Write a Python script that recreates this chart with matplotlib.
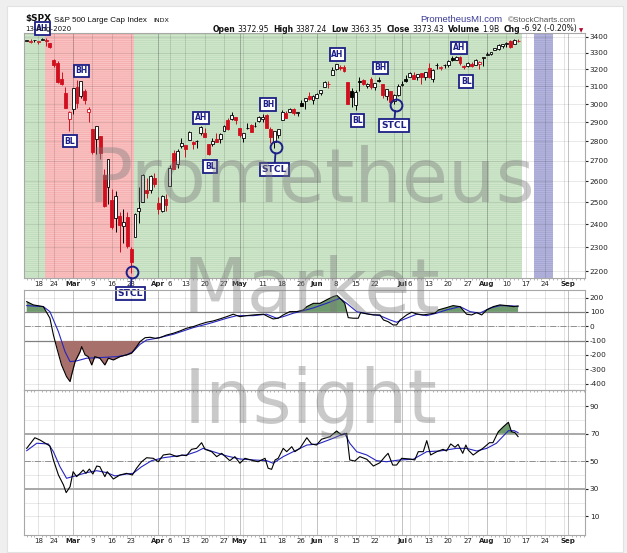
import numpy as np
import pandas as pd
import matplotlib
matplotlib.use('Agg')
import matplotlib.pyplot as plt
from matplotlib.patches import Rectangle
from matplotlib.ticker import NullLocator

plt.rcParams['font.family'] = ['DejaVu Sans']
plt.rcParams['hatch.linewidth'] = 0.5

# trading days shown on the axis (data ends 13-Aug, axis runs into September)
all_days = pd.bdate_range('2020-02-12', '2020-09-08')
holidays = pd.to_datetime(['2020-02-17', '2020-04-10', '2020-05-25', '2020-07-03', '2020-09-07'])
days = all_days.difference(holidays)

# daily OHLC of $SPX, 12-Feb .. 13-Aug 2020
opens = [3370.5, 3365.9, 3378.1, 3369.0, 3380.4, 3380.5, 3360.5, 3257.6, 3238.9, 3139.9, 3062.5, 2916.9,
         2974.3, 3096.5, 3045.8, 3075.7, 2954.2, 2863.9, 2813.5, 2825.6, 2630.9, 2570.0, 2508.6, 2425.7,
         2436.5, 2393.5, 2431.9, 2290.7, 2344.4, 2457.8, 2501.3, 2555.9, 2559.0, 2614.7,
         2498.1, 2458.5, 2514.9, 2578.3, 2738.7, 2685.0, 2777.0, 2782.5, 2805.1, 2795.6, 2799.3, 2842.4,
         2845.6, 2784.8, 2787.9, 2810.4, 2812.6, 2854.7, 2910.0, 2918.5, 2930.9,
         2869.1, 2815.0, 2868.9, 2883.1, 2878.3, 2908.8, 2915.5, 2939.5, 2865.9, 2794.5, 2830.0, 2913.9,
         2948.6, 2953.6, 2970.0, 2948.1, 3004.1, 3015.7, 3046.6, 3025.2,
         3031.2, 3064.8, 3098.9, 3111.6, 3163.8, 3199.9, 3213.3, 3213.4, 3123.5, 3071.0, 2993.8, 3131.0,
         3136.1, 3101.6, 3140.3, 3094.4, 3138.7, 3114.4, 3046.6, 3073.2, 3018.6, 3050.2,
         3105.9, 3143.6, 3155.3, 3166.4, 3153.1, 3176.2, 3152.5, 3205.1, 3141.1, 3226.0, 3208.4, 3224.2,
         3224.3, 3268.5, 3254.9, 3271.6, 3218.6, 3219.8, 3234.3, 3227.2, 3231.8, 3270.5,
         3288.3, 3289.9, 3317.4, 3323.2, 3340.1, 3356.0, 3370.3, 3355.5, 3373.0]
highs = [3381.5, 3385.1, 3380.7, 3375.0, 3393.5, 3389.2, 3360.8, 3259.8, 3247.0, 3182.5, 3097.1, 2959.7,
         3091.0, 3136.7, 3131.0, 3083.0, 2985.9, 2863.9, 2882.6, 2825.6, 2661.0, 2711.3, 2563.0, 2553.9,
         2453.6, 2467.0, 2453.0, 2300.7, 2449.7, 2571.4, 2637.0, 2615.9, 2631.8, 2641.4,
         2522.8, 2533.2, 2538.2, 2676.9, 2756.9, 2760.8, 2818.6, 2782.5, 2851.9, 2801.9, 2806.5, 2879.2,
         2869.0, 2785.5, 2815.1, 2844.9, 2842.7, 2887.7, 2921.2, 2954.9, 2930.9,
         2869.1, 2844.2, 2898.2, 2891.1, 2901.9, 2932.2, 2944.3, 2945.8, 2874.1, 2852.8, 2865.0, 2968.1,
         2964.2, 2980.3, 2978.5, 2956.8, 3021.7, 3036.3, 3068.7, 3049.2,
         3062.2, 3081.1, 3130.9, 3128.9, 3211.7, 3233.1, 3222.7, 3223.3, 3123.5, 3088.4, 3079.8, 3153.5,
         3141.2, 3120.0, 3155.5, 3120.9, 3154.9, 3115.0, 3086.3, 3073.7, 3053.9, 3111.5,
         3128.4, 3165.8, 3182.6, 3184.2, 3171.8, 3179.8, 3186.8, 3235.3, 3201.0, 3238.3, 3220.4, 3233.5,
         3258.6, 3277.3, 3279.3, 3280.0, 3227.3, 3241.4, 3243.7, 3264.7, 3250.9, 3272.2,
         3302.7, 3306.8, 3330.8, 3351.0, 3352.5, 3363.3, 3381.0, 3387.9, 3387.2]
lows = [3369.7, 3360.5, 3366.2, 3355.6, 3378.8, 3341.0, 3328.5, 3214.7, 3118.8, 3109.0, 2977.4, 2855.8,
        2945.2, 2976.6, 3034.4, 2999.8, 2901.5, 2734.4, 2734.0, 2707.2, 2478.9, 2492.4, 2380.9, 2367.0,
        2280.5, 2319.8, 2295.6, 2191.9, 2344.4, 2407.5, 2500.7, 2520.0, 2545.3, 2571.2,
        2447.5, 2455.8, 2460.0, 2574.6, 2657.7, 2663.3, 2762.4, 2721.2, 2805.1, 2761.5, 2764.3, 2830.9,
        2820.4, 2727.1, 2776.0, 2794.3, 2791.8, 2852.9, 2860.7, 2912.2, 2892.5,
        2821.6, 2797.9, 2863.6, 2847.7, 2876.5, 2902.9, 2903.4, 2869.6, 2793.2, 2766.6, 2816.8, 2913.9,
        2922.4, 2953.6, 2938.6, 2933.6, 2988.2, 2969.8, 3023.4, 2998.6,
        3031.2, 3051.6, 3098.9, 3090.4, 3163.8, 3196.0, 3193.1, 3181.5, 2999.5, 2984.5, 2965.7, 3076.1,
        3108.0, 3093.5, 3083.1, 3079.4, 3127.1, 3032.1, 3024.0, 3004.6, 2999.7, 3047.8,
        3101.2, 3124.5, 3155.3, 3142.9, 3136.5, 3115.7, 3136.2, 3149.4, 3127.7, 3200.8, 3198.6, 3205.7,
        3215.2, 3247.8, 3253.1, 3222.7, 3200.1, 3214.3, 3216.2, 3227.2, 3204.1, 3220.3,
        3284.5, 3286.4, 3317.4, 3318.1, 3328.7, 3335.4, 3326.4, 3355.5, 3363.4]
closes = [3379.5, 3373.9, 3380.2, 3370.3, 3386.2, 3373.2, 3337.8, 3225.9, 3128.2, 3116.4, 2978.8, 2954.2,
          3090.2, 3003.4, 3130.1, 3023.9, 2972.4, 2746.6, 2882.2, 2741.4, 2480.6, 2711.0, 2386.1, 2529.2,
          2398.1, 2409.4, 2304.9, 2237.4, 2447.3, 2475.6, 2630.1, 2541.5, 2626.7, 2584.6,
          2470.5, 2526.9, 2488.7, 2663.7, 2659.4, 2750.0, 2789.8, 2761.6, 2846.1, 2783.4, 2799.6, 2874.6,
          2823.2, 2736.6, 2799.3, 2797.8, 2836.7, 2878.5, 2863.4, 2939.5, 2912.4,
          2830.7, 2842.7, 2868.4, 2848.4, 2881.2, 2929.8, 2930.3, 2870.1, 2820.0, 2852.5, 2863.7, 2953.9,
          2922.9, 2971.6, 2948.5, 2955.5, 2991.8, 3036.1, 3029.7, 3044.3,
          3055.7, 3080.8, 3122.9, 3112.4, 3193.9, 3232.4, 3207.2, 3190.1, 3002.1, 3041.3, 3066.6, 3124.7,
          3113.5, 3115.3, 3097.7, 3117.9, 3131.3, 3050.3, 3083.8, 3009.1, 3053.2, 3100.3,
          3115.9, 3130.0, 3179.7, 3145.3, 3169.9, 3152.1, 3185.0, 3155.2, 3197.5, 3226.6, 3215.6, 3224.7,
          3251.8, 3257.3, 3276.0, 3235.7, 3215.6, 3239.4, 3218.4, 3258.4, 3246.2, 3271.1,
          3294.6, 3306.5, 3327.8, 3349.2, 3351.3, 3360.5, 3333.7, 3380.4, 3373.4]

# momentum panel, x in trading-day units
mom_x = [0, 1.7, 4.3, 6.0, 6.9, 7.8, 9.0, 10.3, 11.2, 11.6, 12.5, 13.8, 14.2, 15.1, 15.9, 16.8, 17.6,
         18.9, 20.2, 21.1, 22.4, 24.1, 25.8, 27.1, 28.4, 29.3, 30.6, 31.9, 33.2, 34.4, 36.2, 37.9, 39.6,
         41.3, 43.0, 44.8, 46.5, 48.2, 49.9, 51.7, 53.4, 55.1, 56.8, 58.6, 61.2, 62.4, 63.7, 65.0, 66.3,
         68.0, 69.8, 71.5, 72.4, 74.1, 75.8, 77.5, 79.2, 80.2, 81.4, 82.2, 83.1, 84.4, 85.7, 86.3, 87.9,
         89.6, 91.3, 92.2, 93.4, 94.7, 95.6, 96.5, 98.2, 99.5, 100.8, 102.5, 104.2, 105.5, 106.4, 108.5,
         110.2, 112.0, 113.7, 115.0, 116.3, 117.6, 118.9, 120.6, 122.3, 124.1, 125.8, 127.0]
mom_val = [172, 149, 137, 56, -61, -154, -270, -352, -386, -340, -247, -177, -142, -200, -212, -270, -212,
           -223, -270, -223, -235, -212, -200, -188, -142, -107, -80, -77, -84, -80, -61, -49, -33,
           -14, -3, 14, 28, 37, 51, 67, 84, 67, 74, 79, 84, 67, 51, 56, 79,
           102, 102, 114, 137, 160, 160, 184, 207, 215, 184, 160, 60, 56, 56, 95, 86,
           79, 79, 44, 32, 9, 9, 44, 79, 98, 86, 79, 86, 91, 114, 130,
           144, 137, 84, 79, 95, 79, 114, 137, 149, 144, 137, 142]
mom_sig_x = [0, 4.3, 6.0, 8.2, 9.9, 11.2, 12.9, 15.5, 18.9, 23.3, 25.8, 27.5, 29.3, 31.0, 33.6, 37.9,
             43.0, 47.4, 51.7, 54.3, 58.6, 62.0, 64.6, 66.3, 68.9, 70.6, 74.1, 77.5, 80.9, 82.7, 85.3,
             88.7, 91.3, 93.9, 95.6, 98.2, 100.8, 103.4, 105.9, 108.5, 112.0, 114.6, 117.1, 119.7, 122.3,
             125.7, 127.0]
mom_sig = [144, 137, 102, -38, -177, -247, -242, -223, -219, -212, -200, -177, -126, -96, -84, -56,
           -10, 21, 56, 74, 74, 84, 56, 67, 91, 102, 128, 160, 195, 160, 102,
           84, 74, 44, 28, 56, 84, 74, 91, 114, 137, 102, 91, 126, 144,
           142, 137]

# RSI panel
rsi_x = [0, 2.1, 3.4, 6.0, 6.9, 8.2, 9.5, 10.2, 11.2, 12.0, 12.9, 13.8, 14.6, 15.3, 16.2, 17.1, 18.1,
         18.9, 20.2, 20.8, 22.4, 24.1, 25.8, 27.3, 28.4, 29.7, 31.0, 32.7, 34.0, 35.3, 37.0, 38.8, 40.1,
         41.3, 42.6, 43.9, 45.2, 46.1, 47.8, 49.1, 50.4, 52.5, 53.8, 55.1, 56.4, 58.6, 59.8, 61.6, 62.4,
         63.3, 64.2, 65.0, 66.3, 67.2, 68.5, 69.3, 70.6, 72.4, 73.6, 74.9, 76.2, 78.4, 80.1, 81.4, 82.7,
         83.5, 84.8, 86.1, 87.9, 89.6, 91.3, 92.6, 93.4, 94.6, 95.6, 96.9, 99.0, 100.3, 101.2, 102.5,
         103.4, 104.4, 106.0, 107.6, 108.5, 109.6, 110.7, 111.5, 112.7, 113.5, 114.1, 115.4, 116.6,
         117.9, 119.6, 120.5, 121.9, 123.2, 124.5, 125.3, 126.2, 127.0]
rsi_val = [59.3, 67.0, 65.4, 61.0, 50.9, 40.0, 32.8, 27.2, 31.5, 42.4, 38.8, 41.2, 43.6, 41.2, 44.3, 40.7, 46.5,
           46.0, 38.8, 42.4, 37.1, 40.0, 41.2, 40.0, 44.9, 49.6, 52.5, 52.1, 49.6, 54.5, 55.2, 53.3, 54.5,
           54.0, 58.6, 59.3, 63.4, 58.6, 56.9, 53.3, 55.7, 50.4, 53.3, 48.5, 52.1, 50.4, 49.6, 52.1, 44.9,
           44.1, 50.9, 52.1, 59.3, 56.9, 60.5, 56.9, 59.3, 67.0, 62.5, 61.7, 65.9, 67.8, 71.9, 69.0, 70.2,
           50.9, 50.1, 53.3, 51.4, 46.5, 48.9, 53.3, 55.7, 47.2, 47.2, 52.1, 51.6, 50.9, 56.9, 56.9,
           64.9, 54.5, 56.9, 58.6, 57.4, 62.5, 60.1, 62.2, 55.7, 61.7, 58.1, 54.5, 56.9,
           59.3, 63.4, 63.4, 71.4, 75.0, 78.2, 71.4, 70.7, 67.8]
rsi_sig_x = [0, 2.6, 5.6, 6.9, 8.6, 10.3, 12.5, 15.5, 18.1, 20.7, 22.8, 25.8, 27.5, 29.7, 32.3, 35.3,
             38.8, 41.3, 43.9, 45.6, 48.2, 51.7, 55.1, 58.6, 62.0, 63.7, 66.3, 68.9, 72.4, 75.3, 79.2,
             82.2, 83.5, 85.3, 87.9, 90.4, 93.0, 96.4, 99.9, 103.4, 106.8, 111.1, 113.7, 116.3, 118.9,
             121.4, 123.2, 124.5, 126.0, 127.0]
rsi_sig = [57.6, 63.0, 62.5, 56.9, 46.0, 37.6, 39.3, 41.7, 43.1, 41.7, 39.3, 40.7, 41.2, 46.0, 50.4, 52.5,
           53.8, 54.5, 56.9, 59.3, 56.9, 53.8, 51.6, 50.9, 50.4, 48.5, 53.3, 56.9, 61.7, 62.5, 66.6,
           70.2, 63.0, 56.9, 54.5, 50.4, 49.6, 50.9, 51.4, 56.9, 57.4, 59.3, 59.3, 57.4, 59.3,
           63.0, 68.3, 72.1, 72.1, 70.7]

# x axis labels
tick_dates = ['2020-02-18', '2020-02-24', '2020-03-02', '2020-03-09', '2020-03-16', '2020-03-23',
              '2020-04-01', '2020-04-06', '2020-04-13', '2020-04-20', '2020-04-27', '2020-05-01',
              '2020-05-11', '2020-05-18', '2020-05-26', '2020-06-01', '2020-06-08', '2020-06-15',
              '2020-06-22', '2020-07-01', '2020-07-06', '2020-07-13', '2020-07-20', '2020-07-27',
              '2020-08-03', '2020-08-10', '2020-08-17', '2020-08-24', '2020-09-01']
tick_labels = ['18', '24', 'Mar', '9', '16', '23', 'Apr', '6', '13', '20', '27', 'May', '11', '18', '26',
               'Jun', '8', '15', '22', 'Jul', '6', '13', '20', '27', 'Aug', '10', '17', '24', 'Sep']
extra_grid_dates = ['2020-05-04', '2020-06-29', '2020-08-31']
months = ['Mar', 'Apr', 'May', 'Jun', 'Jul', 'Aug', 'Sep']

price_ticks = [2200, 2300, 2400, 2500, 2600, 2700, 2800, 2900, 3000, 3100, 3200, 3300, 3400]
mom_ticks = [200, 100, 0, -100, -200, -300, -400]
rsi_ticks = [10, 30, 50, 70, 90]

# background bands of the price panel (trading-day units)
bands = [(-0.7, 4.7, 'g'), (4.7, 27.7, 'r'), (27.7, 128.0, 'g'), (131.1, 136.1, 'b')]

# chart annotations: text, day, price
marks = [('AH', 4.1, 3451), ('BH', 14.2, 3190), ('BL', 11.2, 2801), ('AH', 45.0, 2924),
         ('BL', 47.4, 2672), ('BH', 62.4, 2998), ('AH', 80.3, 3288), ('BL', 85.5, 2910),
         ('BH', 91.4, 3208), ('AH', 111.7, 3329), ('BL', 113.6, 3129)]
stcl = [(27.2, 2195, 26.8, 2110), (64.4, 2768, 64.0, 2655), (95.4, 2995, 94.9, 2885)]

navy = '#1c1f86'
red = '#d0101e'
W, H = 627, 553


def rect(l, t, r, b):
    return [l / W, 1 - b / H, (r - l) / W, (b - t) / H]


fig = plt.figure(figsize=(6.27, 5.53), dpi=100)
fig.patch.set_facecolor('#efefef')
fig.patches.append(Rectangle((7 / W, 1 - 552 / H), 616 / W, 546 / H, transform=fig.transFigure,
                             fc='white', ec='#e2e2e2', lw=0.8, zorder=-5))

ax1 = fig.add_axes(rect(24, 33, 585, 278))
ax2 = fig.add_axes(rect(24, 290, 585, 390))
ax3 = fig.add_axes(rect(24, 390, 585, 535))

tick_pos = days.get_indexer(pd.to_datetime(tick_dates))
extra_pos = days.get_indexer(pd.to_datetime(extra_grid_dates))
n_days = len(days)
xlo, xhi = -0.7, n_days - 0.7

for ax in (ax1, ax2, ax3):
    ax.set_xlim(xlo, xhi)
    ax.patch.set_alpha(0)
    for p, lab in zip(tick_pos, tick_labels):
        ax.axvline(p, color='k', alpha=0.28 if lab in months else 0.13, lw=0.6, zorder=1)
    for p in extra_pos:
        ax.axvline(p, color='k', alpha=0.13, lw=0.6, zorder=1)
    for s in ax.spines.values():
        s.set_color('#a8a8a8')
        s.set_linewidth(0.8)
    ax.yaxis.tick_right()
    ax.tick_params(axis='y', labelsize=5.3, length=2, pad=1.5, colors='#222222')
    ax.set_xticks(tick_pos)
    ax.set_xticks(np.arange(n_days), minor=True)
    ax.tick_params(axis='x', which='major', length=0, pad=2.5, labelsize=5.0, colors='#222222')
    ax.tick_params(axis='x', which='minor', length=1.5, width=0.5, color='#999999')
    ax.tick_params(axis='y', which='minor', length=0)

# ---- price panel ----
band_style = {'g': ('#cfe6cb', '#bcdab8'), 'r': ('#fac2c2', '#f4aaaa'), 'b': ('#b4b4dc', '#a2a2d2')}
for x0, x1, k in bands:
    fc, hc = band_style[k]
    ax1.axvspan(x0, x1, facecolor=fc, edgecolor=hc, hatch='--------', lw=0, zorder=0)

ax1.set_yscale('log')
ax1.set_ylim(2172, 3423)
ax1.set_yticks(price_ticks)
ax1.set_yticklabels([str(v) for v in price_ticks])
ax1.yaxis.set_minor_locator(NullLocator())
for v in price_ticks:
    ax1.axhline(v, color='k', alpha=0.1, lw=0.6, zorder=1)

for i in range(len(closes)):
    o, h, lo, c = opens[i], highs[i], lows[i], closes[i]
    down_day = i > 0 and c < closes[i - 1]
    col = red if down_day else 'black'
    face = col if c < o else 'white'
    ax1.vlines(i, lo, h, color=col, lw=0.7, zorder=3)
    ax1.bar(i, max(abs(c - o), 0.8), bottom=min(o, c), width=0.75, facecolor=face,
            edgecolor=col, lw=0.6, zorder=4)

box = dict(boxstyle='square,pad=0.22', fc='white', ec=navy, lw=1.3)
for txt, x, y in marks:
    ax1.text(x, y, txt, ha='center', va='center', fontsize=5.5, fontweight='bold', color=navy,
             bbox=box, zorder=6, clip_on=False)
for cx, cy, tx, ty in stcl:
    ax1.plot(cx, cy, 'o', ms=8.5, mfc='none', mec=navy, mew=1.4, zorder=6, clip_on=False)
    ax1.annotate('STCL', xy=(cx, cy), xytext=(tx, ty), ha='center', va='center', fontsize=6.6,
                 fontweight='bold', color=navy, bbox=box, zorder=6, annotation_clip=False,
                 arrowprops=dict(arrowstyle='-', color=navy, lw=1.3, shrinkA=0, shrinkB=4.3))

# ---- momentum panel ----
mx = np.array(mom_x)
mv = np.array(mom_val)
ax2.set_ylim(-445, 253)
ax2.set_yticks(mom_ticks)
ax2.set_yticklabels([str(v) for v in mom_ticks])
ax2.set_xticklabels([])
for v in mom_ticks:
    ax2.axhline(v, color='k', alpha=0.1, lw=0.6, zorder=1)
ax2.axhline(100, color='#808080', lw=0.9, zorder=2)
ax2.axhline(-100, color='#808080', lw=0.9, zorder=2)
ax2.axhline(0, color='#909090', lw=0.7, ls='-.', zorder=2)
ax2.fill_between(mx, mv, 100, where=mv > 100, interpolate=True, color='#6f9a6d', lw=0, zorder=2)
ax2.fill_between(mx, mv, -100, where=mv < -100, interpolate=True, color='#a8706a', lw=0, zorder=2)
ax2.plot(mom_sig_x, mom_sig, color='#2626c0', lw=0.8, zorder=3)
ax2.plot(mx, mv, color='black', lw=0.8, zorder=4)

# ---- RSI panel ----
rx = np.array(rsi_x)
rv = np.array(rsi_val)
ax3.set_ylim(-3.5, 101.6)
ax3.set_yticks(rsi_ticks)
ax3.set_yticklabels([str(v) for v in rsi_ticks])
for v in range(10, 100, 10):
    ax3.axhline(v, color='k', alpha=0.1, lw=0.6, zorder=1)
ax3.axhline(70, color='#a8a8a8', lw=1.4, zorder=2)
ax3.axhline(30, color='#a8a8a8', lw=1.4, zorder=2)
ax3.axhline(50, color='#909090', lw=0.7, ls='-.', zorder=2)
ax3.fill_between(rx, rv, 70, where=rv > 70, interpolate=True, color='#6f9a6d', lw=0, zorder=2)
ax3.plot(rsi_sig_x, rsi_sig, color='#2626c0', lw=0.8, zorder=3)
ax3.plot(rx, rv, color='black', lw=0.8, zorder=4)

for ax in (ax1, ax3):
    ax.set_xticklabels(tick_labels)
    for t in ax.get_xticklabels():
        if t.get_text() in months:
            t.set_fontweight('bold')

# ---- header ----
fig.text(25 / W, 1 - 21.5 / H, '$SPX', fontsize=6.4, fontweight='bold', color='#111111')
fig.text(54 / W, 1 - 21.5 / H, 'S&P 500 Large Cap Index', fontsize=5.8, color='#111111',
         family=['Liberation Sans', 'DejaVu Sans'])
fig.text(153 / W, 1 - 21.5 / H, 'INDX', fontsize=4.6, color='#111111')
fig.text(25 / W, 1 - 31.5 / H, '13-Aug-2020', fontsize=5.1, color='#111111')
fig.text(420 / W, 1 - 21.5 / H, 'PrometheusMI.com', fontsize=6.8, color='#3c3c96',
         family=['Liberation Sans', 'DejaVu Sans'])
fig.text(508 / W, 1 - 21.5 / H, '\u00a9StockCharts.com', fontsize=5.9, color='#555555',
         family=['Liberation Sans', 'DejaVu Sans'])

parts = [('Open', 'bold', '#111111', 0), ('3372.95', 'normal', '#111111', 1.3),
         ('High', 'bold', '#111111', 3.3), ('3387.24', 'normal', '#111111', 1.3),
         ('Low', 'bold', '#111111', 3.3), ('3363.35', 'normal', '#111111', 1.3),
         ('Close', 'bold', '#111111', 3.3), ('3373.43', 'normal', '#111111', 1.3),
         ('Volume', 'bold', '#111111', 3.3), ('1.9B', 'normal', '#111111', 1.3),
         ('Chg', 'bold', '#111111', 3.3), ('-6.92 (-0.20%)', 'normal', '#111111', 1.3),
         ('\u25bc', 'normal', '#b0002a', 1.5)]
prev = fig.text(213 / W, 1 - 31.5 / H, parts[0][0], fontsize=5.5, fontweight=parts[0][1], color=parts[0][2])
for s, wgt, col, gap in parts[1:]:
    prev = ax1.annotate(s, xy=(1, 0), xycoords=prev, xytext=(gap, 0), textcoords='offset points',
                        va='bottom', ha='left', fontsize=5.5 if s != '\u25bc' else 4.0,
                        fontweight=wgt, color=col, annotation_clip=False)

# ---- watermark ----
for word, yb in (('Prometheus', 202), ('Market', 312), ('Insight', 423)):
    fig.text(311 / W, 1 - yb / H, word, fontsize=54, color='#7a7a7a', alpha=0.40,
             ha='center', va='baseline', zorder=20)

fig.savefig('out.png', dpi=100, facecolor=fig.get_facecolor())
